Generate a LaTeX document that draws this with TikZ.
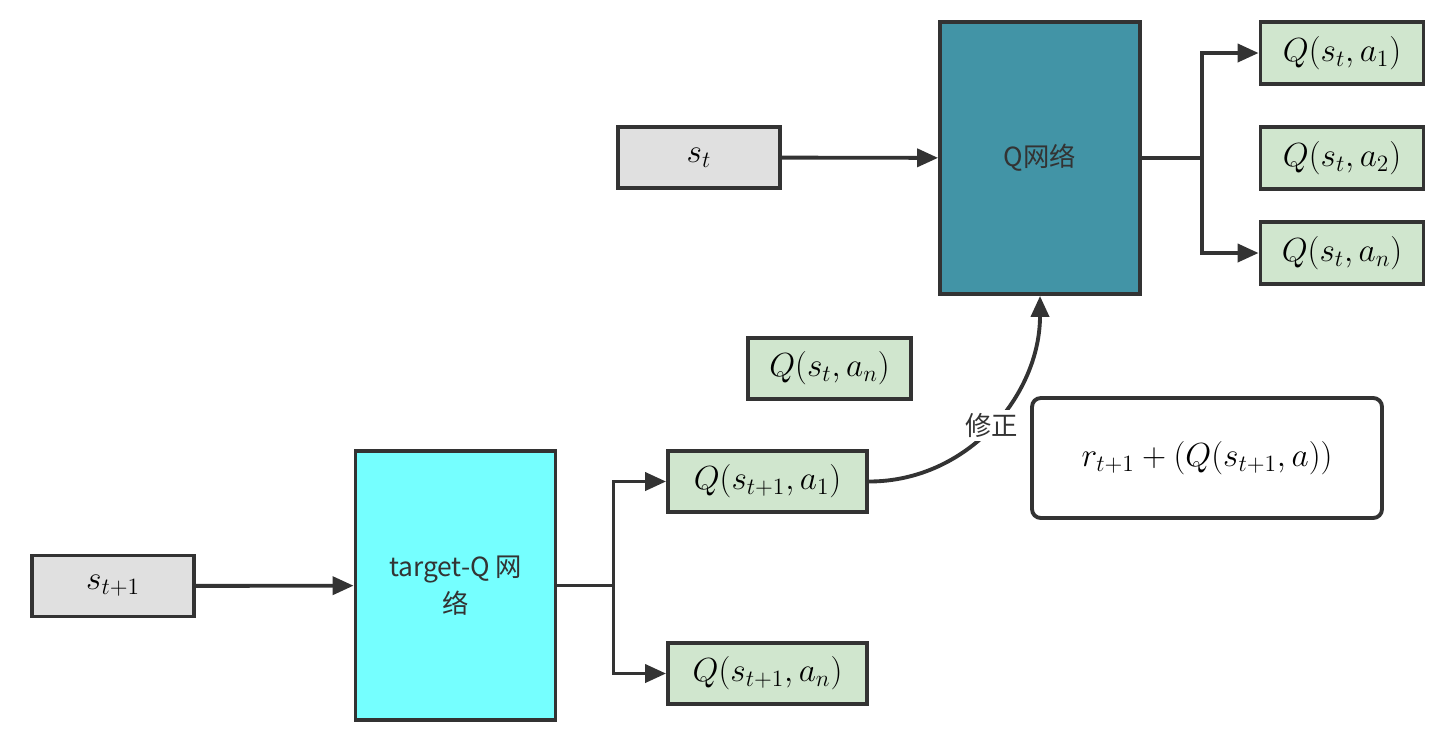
\documentclass[tikz,border=0pt]{standalone}
\usepackage{fix-cm}
\usepackage{fontspec}
\newfontfamily\cjk{Noto Sans CJK SC}
\usepackage{tikz}
\usetikzlibrary{arrows.meta}
\definecolor{linegray}{HTML}{333333}
\definecolor{stategray}{HTML}{E0E0E0}
\definecolor{valgreen}{HTML}{D0E6CE}
\definecolor{qteal}{HTML}{4294A6}
\definecolor{tcyan}{HTML}{75FFFF}
\newcommand{\mathsize}{\fontsize{19}{23}\selectfont}
\newcommand{\cjksize}{\cjk\fontsize{15}{21}\selectfont}
\tikzset{
  statebox/.style={rectangle,draw=linegray,line width=2.2pt,fill=stategray,minimum width=3.24cm,minimum height=1.22cm,font=\mathsize},
  netbox/.style={rectangle,draw=linegray,line width=2.2pt,align=center,minimum width=4cm,text=linegray,font=\cjksize},
  valbox/.style={rectangle,draw=linegray,line width=2.2pt,fill=valgreen,minimum height=1.23cm,font=\mathsize},
  sumbox/.style={rectangle,rounded corners=5pt,draw=linegray,line width=2.2pt,fill=white,minimum width=7cm,minimum height=2.4cm,font=\mathsize},
  arrow/.style={-{Triangle[length=4.2mm,width=3.6mm]},line width=2.2pt,linegray},
  tag/.style={fill=white,text=linegray,font=\cjksize,inner sep=2pt}
}

\begin{document}
\begin{tikzpicture}
  \useasboundingbox (0,0) rectangle (28.82,-14.74);
  \node[statebox] (st) at (13.98,-3.15) {$s_t$};
  \node[netbox,fill=qteal,minimum height=5.44cm] (qnet) at (20.8,-3.16) {Q网络};
  \node[valbox,minimum width=3.26cm] (qa1) at (26.84,-1.06) {$Q(s_t,a_1)$};
  \node[valbox,minimum width=3.26cm] (qa2) at (26.84,-3.16) {$Q(s_t,a_2)$};
  \node[valbox,minimum width=3.26cm] (qan) at (26.84,-5.06) {$Q(s_t,a_n)$};
  \node[valbox,minimum width=3.26cm] (qtn) at (16.59,-7.37) {$Q(s_t,a_n)$};
  \node[sumbox] (rsum) at (24.14,-9.16) {$r_{t+1}+(Q(s_{t+1},a))$};
  \node[statebox] (st1) at (2.26,-11.72) {$s_{t+1}$};
  \node[netbox,fill=tcyan,minimum height=5.38cm] (tnet) at (9.11,-11.71) {target-Q 网\\络};
  \node[valbox,minimum width=3.98cm] (tqa1) at (15.35,-9.63) {$Q(s_{t+1},a_1)$};
  \node[valbox,minimum width=3.98cm] (tqan) at (15.35,-13.47) {$Q(s_{t+1},a_n)$};
  \draw[arrow] (st) -- (qnet);
  \draw[arrow] (qnet.east) -- ++(1.2,0) |- (qa1.west);
  \draw[arrow] (qnet.east) -- ++(1.2,0) |- (qan.west);
  \draw[arrow] (st1) -- (tnet);
  \draw[arrow] (tnet.east) -- ++(1.12,0) |- (tqa1.west);
  \draw[arrow] (tnet.east) -- ++(1.12,0) |- (tqan.west);
  \draw[arrow] (tqa1.east) to[out=0,in=-90] node[tag] {修正} (qnet.south);
\end{tikzpicture}
\end{document}
